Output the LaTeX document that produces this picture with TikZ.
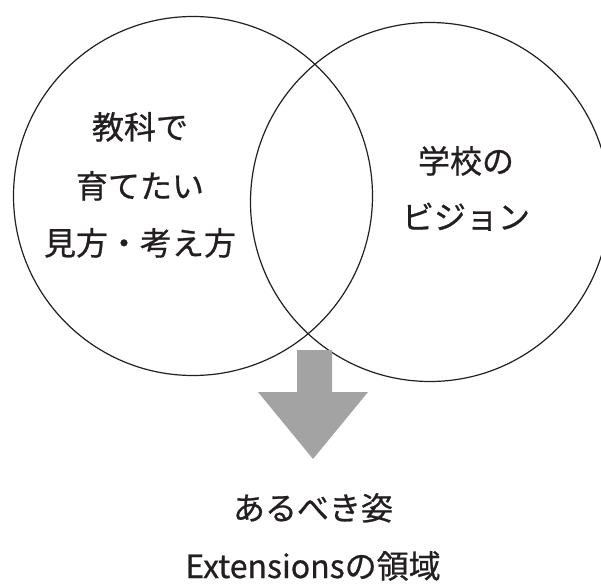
\documentclass[tikz,border=0pt]{standalone}
\usepackage{fontspec}
\setmainfont{Noto Sans CJK JP}
\newfontfamily\jpfont[FakeBold=0.7]{Noto Sans CJK JP}
\definecolor{inkc}{HTML}{231F20}
\definecolor{arrowgray}{HTML}{A3A3A3}
\tikzset{
  venn/.style={circle, draw=inkc, line width=1.2pt, minimum size=359pt, inner sep=0pt},
  lbl/.style={anchor=base, inner sep=0pt, text=inkc, font=\jpfont\fontsize{32}{38}\selectfont},
  bigarrow/.style={fill=arrowgray, draw=none}
}
\begin{document}
\begin{tikzpicture}[x=1pt,y=-1pt]
\useasboundingbox (0,0) rectangle (601,585);
\clip (0,0) rectangle (601,585);
\fill[white] (0,0) rectangle (601,585);
\node[venn] (L) at (193,196) {};
\node[venn] (R) at (430,202) {};
% arrow
\fill[bigarrow] (297,350) -- (332,350) -- (332,392) -- (368,392) -- (313,459) -- (258,392) -- (297,392) -- cycle;
\node[lbl] (l1) at (140,139) {教科で};
\node[lbl] (l2) at (140,198) {育てたい};
\node[lbl] (l3) at (140,255) {見方・考え方};
\node[lbl] (r1) at (466,173) {学校の};
\node[lbl] (r2) at (466,229) {ビジョン};
\node[lbl] (b1) at (313,520) {あるべき姿};
\node[lbl] (b2) at (313,578) {Extensionsの領域};
\end{tikzpicture}
\end{document}
